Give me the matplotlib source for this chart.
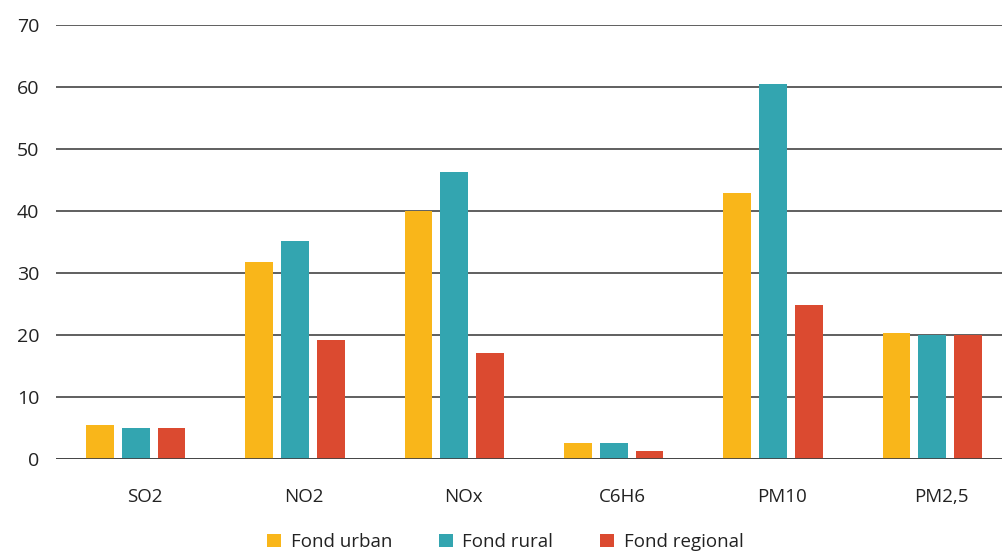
import matplotlib.pyplot as plt
import numpy as np

plt.rcParams['font.family'] = ['Open Sans', 'DejaVu Sans']

categories = ['SO2', 'NO2', 'NOx', 'C6H6', 'PM10', 'PM2,5']
urban = [5.5, 31.8, 40.0, 2.6, 42.9, 20.4]
rural = [5.0, 35.2, 46.3, 2.6, 60.5, 20.0]
regional = [5.0, 19.2, 17.1, 1.3, 24.8, 20.0]
series_names = ['Fond urban', 'Fond rural', 'Fond regional']
colors = ['#F9B61A', '#33A5B0', '#DB4A30']

fig = plt.figure(figsize=(10.02, 5.52), dpi=100)
ax = fig.add_axes([56/1002, 1 - 459/552, 956/1002, 434/552])

x = np.arange(len(categories))
w = 0.175
step = 0.225
for i, (vals, name, c) in enumerate(zip([urban, rural, regional], series_names, colors)):
    ax.bar(x + (i - 1) * step, vals, width=w, color=c, label=name, zorder=3)

ax.set_xlim(-0.5, 5.5)
ax.set_ylim(0, 70)
ax.set_yticks(range(0, 71, 10))
ax.grid(axis='y', color='#444444', linewidth=1.2, zorder=0)
ax.axhline(0, color='#444444', linewidth=2, zorder=4)
for s in ax.spines.values():
    s.set_visible(False)
ax.tick_params(axis='y', length=0, pad=12, labelsize=14, colors='#222222')
ax.tick_params(axis='x', length=0, pad=21, labelsize=13.5, colors='#222222')
ax.set_xticks(x + 0.055)
ax.set_xticklabels(categories)

ax.legend(loc='upper center', bbox_to_anchor=(0.47, -0.132), ncol=3, frameon=False,
          fontsize=13.5, handlelength=0.75, handleheight=0.75, columnspacing=2.5,
          handletextpad=0.5, labelcolor='#222222')

fig.savefig('out.png', dpi=100)
